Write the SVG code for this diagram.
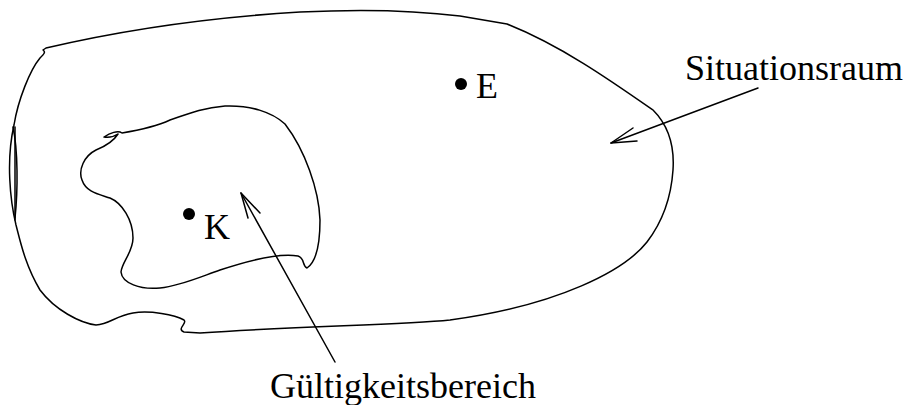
<svg xmlns="http://www.w3.org/2000/svg" width="914" height="405" viewBox="0 0 914 405">
<rect width="914" height="405" fill="#fff"/>
<g id="situationsraum" fill="none" stroke="#000" stroke-width="1.5" stroke-linejoin="round" stroke-linecap="round">
<path d="M43,50 L46,48 C110,33 200,18 300,12 C360,9 420,11 460,16 L507,24 C560,45 610,80 653,110 C665,122 675,140 673,170 C671,200 660,225 647,242 C625,270 560,305 450,320 C400,325 300,326 200,333 L184,332 C176,329 188,323 184,320 C175,315 150,310 133,313 C115,316 110,324 96,325 C80,323 55,310 40,290 C25,265 20,240 16,225 C10,200 6,160 14,125 C18,100 30,70 40,58 C44,54 46,52 43,50 Z"/>
<path d="M15,127 L15,220"/>
<path d="M13,127 C18,150 18,190 15,218"/>
</g>
<g id="gueltigkeitsbereich" fill="none" stroke="#000" stroke-width="1.5" stroke-linejoin="round" stroke-linecap="round">
<path d="M118,134 C113,142 106,146 96,150 C84,156 78,170 82,180 C86,192 98,194 110,198 C122,203 133,220 133,238 C133,252 122,262 121,272 C122,283 140,290 160,288 C180,286 200,277 220,270 C250,260 280,253 298,256 C305,258 302,266 307,268 C316,262 320,245 320,220 C319,190 305,150 285,124 C272,112 250,105 225,106 C200,108 185,115 170,120 C155,127 140,130 122,133 C118,130 110,133 104,137 C110,138 115,136 118,134 Z"/>
</g>
<g id="E">
<circle cx="461" cy="84" r="6" fill="#000"/>
<text x="476" y="98" font-family="Liberation Serif" font-size="36">E</text>
</g>
<g id="K">
<circle cx="189" cy="214" r="6" fill="#000"/>
<text x="204" y="239" font-family="Liberation Serif" font-size="36">K</text>
</g>
<text x="685" y="80" font-family="Liberation Serif" font-size="36">Situationsraum</text>
<text x="270" y="398" font-family="Liberation Serif" font-size="36">Gültigkeitsbereich</text>
<g id="connectors" fill="none" stroke="#000" stroke-width="1.5" stroke-linecap="round" stroke-linejoin="round">
<line x1="758" y1="88" x2="611" y2="143"/>
<polyline points="633,128 611,143 637,141"/>
<line x1="335" y1="362" x2="241" y2="193"/>
<polyline points="248,218 241,193 260,213"/>
</g>
</svg>
